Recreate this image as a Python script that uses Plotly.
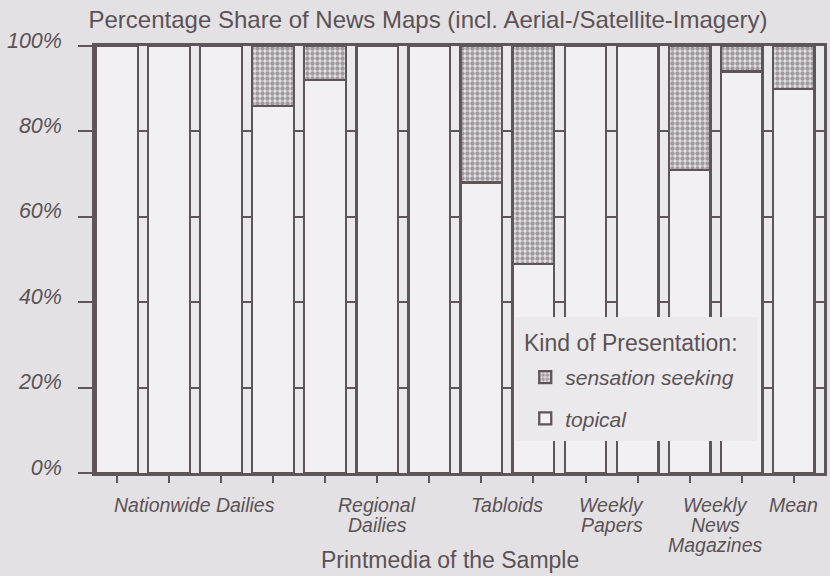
import plotly.graph_objects as go

# ---- data ----
group_lines = [["Nationwide Dailies"], ["Regional", "Dailies"], ["Tabloids"],
               ["Weekly", "Papers"], ["Weekly", "News", "Magazines"], ["Mean"]]
bars_per_group = [4, 3, 2, 2, 2, 1]
topical = [100, 100, 100, 86, 92, 100, 100, 68, 49, 100, 100, 71, 94, 90]
sensation = [0, 0, 0, 14, 8, 0, 0, 32, 51, 0, 0, 29, 6, 10]
y_ticks = [0, 20, 40, 60, 80, 100]
y_ticktext = ["0%", "20%", "40%", "60%", "80%", "100%"]

# ---- styling ----
INK = "#5b5256"
LINE = "#5e5559"
PAPER = "#e3e1e3"
PLOT = "#ebe9eb"
BARFILL = "#f2f0f2"
FONT = "Liberation Sans, Arial, sans-serif"

# plot area in pixels (for paper-coordinate placement of free texts)
L, R, T, B = 95, 827, 46, 473
PW, PH = R - L, B - T


def px_x(px):
    return (px - L) / PW


def px_y(py):
    return (B - py) / PH


xpos = list(range(len(topical)))

fig = go.Figure()
fig.add_trace(go.Bar(
    x=xpos, y=topical, name="topical", width=0.8,
    marker=dict(color=BARFILL, line=dict(color=LINE, width=2.3)),
    legendgroup="topical", legendrank=2, hoverinfo="skip"))
fig.add_trace(go.Bar(
    x=xpos, y=sensation, name="sensation seeking", width=0.8,
    marker=dict(color="#e4e0e4", line=dict(color=LINE, width=2.3),
                pattern=dict(shape=".", fgcolor="#5a5256", bgcolor="#e4e0e4",
                             size=5, solidity=0.6, fillmode="overlay")),
    legendgroup="sens", legendrank=1, hoverinfo="skip"))

annotations = []
start = 0
for lines, n in zip(group_lines, bars_per_group):
    center = start + (n - 1) / 2
    for k, txt in enumerate(lines):
        annotations.append(dict(
            x=center, y=0, xref="x", yref="paper", text=txt, showarrow=False,
            xanchor="center", yanchor="top", yshift=-19 - 20 * k,
            font=dict(family=FONT, size=19.5, color=INK, style="italic")))
    start += n

annotations.append(dict(
    x=px_x(451), y=px_y(560), xref="paper", yref="paper",
    text="Printmedia of the Sample", showarrow=False,
    xanchor="center", yanchor="middle",
    font=dict(family=FONT, size=23, color=INK)))

# legend title as a free text
annotations.append(dict(
    x=px_x(524), y=px_y(343), xref="paper", yref="paper",
    text="Kind of Presentation:", showarrow=False,
    xanchor="left", yanchor="middle",
    font=dict(family=FONT, size=23, color=INK)))

shapes = [dict(type="rect", xref="paper", yref="paper", layer="above",
               x0=px_x(517), x1=px_x(760), y0=px_y(441), y1=px_y(317),
               fillcolor=PLOT, line=dict(width=0))]

fig.update_layout(
    width=830, height=576,
    margin=dict(l=L, r=830 - R, t=T, b=576 - B),
    paper_bgcolor=PAPER, plot_bgcolor=PLOT,
    barmode="stack", bargap=0.2,
    font=dict(family=FONT, color=INK),
    title=dict(text="Percentage Share of News Maps (incl. Aerial-/Satellite-Imagery)",
               x=428 / 830, xanchor="center", xref="container",
               y=1 - 20 / 576, yanchor="middle", yref="container",
               font=dict(family=FONT, size=24, color=INK)),
    xaxis=dict(range=[-0.42, 13.58], tickvals=xpos, showticklabels=False,
               ticks="outside", ticklen=7, tickwidth=2, tickcolor=LINE,
               showline=True, linecolor=LINE, linewidth=2.5, mirror=True,
               showgrid=False, zeroline=False, fixedrange=True),
    yaxis=dict(range=[0, 100], tickmode="array", tickvals=y_ticks, ticktext=y_ticktext,
               ticks="outside", ticklen=14, tickwidth=2, tickcolor=LINE,
               ticklabelstandoff=12, ticklabelshift=-6,
               tickfont=dict(family=FONT, size=21.5, color=INK, style="italic"),
               showline=True, linecolor=LINE, linewidth=2.5, mirror=True,
               showgrid=True, gridcolor=LINE, gridwidth=1.6,
               zeroline=False, fixedrange=True),
    legend=dict(x=px_x(527), y=px_y(357), xanchor="left", yanchor="top",
                bgcolor="rgba(0,0,0,0)", borderwidth=0,
                traceorder="grouped", tracegroupgap=11,
                font=dict(family=FONT, size=21, color=INK, style="italic")),
    annotations=annotations,
    shapes=shapes,
    showlegend=True,
)

fig.write_html("out.html", config={"displayModeBar": False},
               post_script="document.body.style.margin='0';document.body.style.padding='0';")
